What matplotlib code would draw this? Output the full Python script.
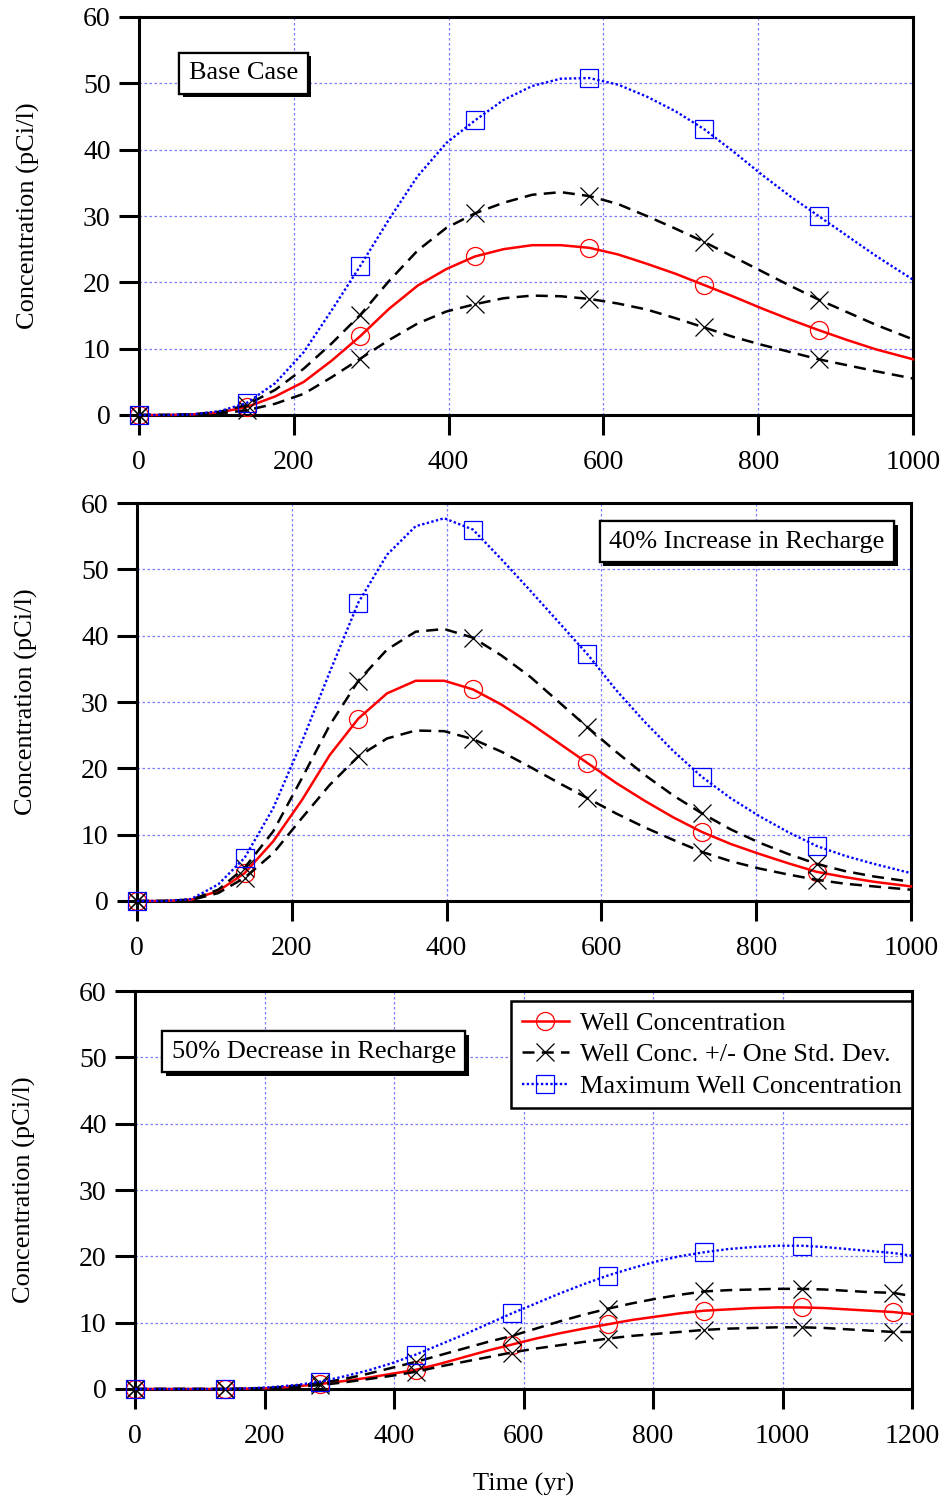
import numpy as np
import matplotlib
matplotlib.use("Agg")
import matplotlib.pyplot as plt
from matplotlib import patheffects

plt.rcParams['font.family'] = ['Liberation Serif', 'DejaVu Serif']
plt.rcParams['font.size'] = 19

# ---------------------------------------------------------------- data
# simulation output times (yr)
years_1000 = [0, 35, 70, 105, 139, 176, 213, 249, 286, 323, 360, 397, 434, 471,
              508, 545, 582, 619, 656, 693, 730, 767, 804, 841, 878, 915, 952, 1000]
years_1200 = [0, 35, 70, 105, 139, 176, 213, 249, 286, 323, 360, 397, 434, 471,
              508, 545, 582, 619, 656, 693, 730, 767, 804, 841, 878, 916, 954, 992,
              1030, 1065, 1100, 1135, 1171, 1200]
# times carrying symbols
symbol_years_1000 = [0, 139, 286, 434, 582, 730, 878]
symbol_years_1200 = [0, 139, 286, 434, 582, 730, 878, 1030, 1171]

# Base case (pCi/l)
base_mean = [0, 0, 0.1, 0.4, 1.2, 2.8, 5.0, 8.2, 11.9, 16.0, 19.5, 22.0, 23.9, 25.0,
             25.6, 25.6, 25.2, 24.2, 22.8, 21.3, 19.6, 17.9, 16.1, 14.4, 12.8, 11.3, 9.9, 8.4]
base_upper = [0, 0, 0.1, 0.5, 1.5, 3.8, 7.0, 10.8, 15.1, 20.2, 24.8, 28.2, 30.4, 32.0,
              33.2, 33.6, 33.0, 31.8, 30.0, 28.1, 26.1, 23.9, 21.7, 19.5, 17.4, 15.5, 13.6, 11.4]
base_lower = [0, 0, 0.05, 0.25, 0.7, 1.7, 3.2, 5.7, 8.5, 11.3, 13.8, 15.6, 16.7, 17.6,
              18.0, 17.9, 17.5, 16.8, 15.9, 14.6, 13.2, 11.8, 10.6, 9.5, 8.4, 7.5, 6.6, 5.5]
base_max = [0, 0, 0.1, 0.6, 1.8, 4.8, 9.5, 15.8, 22.5, 29.5, 36.0, 41.0, 44.4, 47.5,
            49.6, 50.7, 50.8, 49.8, 48.0, 45.8, 43.1, 39.8, 36.3, 33.0, 30.0, 27.0, 24.0, 20.4]

# 40% increase in recharge
inc_mean = [0, 0, 0.2, 1.5, 4.2, 9.0, 15.2, 22.0, 27.5, 31.3, 33.2, 33.2, 31.9, 29.6,
            26.8, 23.8, 20.8, 17.8, 15.1, 12.6, 10.4, 8.6, 7.1, 5.7, 4.4, 3.6, 2.9, 2.2]
inc_upper = [0, 0, 0.2, 1.7, 5.0, 10.5, 18.5, 26.5, 33.2, 37.9, 40.6, 41.0, 39.7, 37.0,
             33.8, 30.0, 26.2, 22.5, 19.0, 15.9, 13.2, 10.8, 8.8, 7.1, 5.6, 4.5, 3.7, 2.9]
inc_lower = [0, 0, 0.15, 1.2, 3.5, 7.2, 12.5, 17.5, 21.8, 24.5, 25.7, 25.6, 24.4, 22.5,
             20.2, 17.8, 15.5, 13.2, 11.1, 9.2, 7.4, 6.0, 4.9, 4.0, 3.2, 2.6, 2.2, 1.7]
inc_max = [0, 0, 0.3, 2.5, 6.5, 14.0, 24.0, 34.5, 45.0, 52.2, 56.5, 57.7, 56.0, 51.5,
           46.8, 42.0, 37.2, 31.8, 27.0, 22.6, 18.7, 15.5, 12.8, 10.4, 8.3, 6.8, 5.6, 4.2]

# 50% decrease in recharge
dec_mean = [0, 0, 0, 0, 0, 0.05, 0.15, 0.4, 0.75, 1.2, 1.7, 2.3, 2.9, 3.8, 4.8, 5.8,
            6.7, 7.6, 8.4, 9.1, 9.75, 10.4, 10.9, 11.4, 11.8, 12.0, 12.2, 12.3, 12.3,
            12.2, 12.0, 11.8, 11.6, 11.3]
dec_upper = [0, 0, 0, 0, 0, 0.05, 0.2, 0.5, 0.9, 1.5, 2.3, 3.2, 4.1, 5.1, 6.1, 7.1,
             8.0, 9.1, 10.2, 11.2, 12.1, 12.9, 13.6, 14.2, 14.7, 14.9, 15.0, 15.1, 15.1,
             15.0, 14.8, 14.6, 14.5, 14.0]
dec_lower = [0, 0, 0, 0, 0, 0.03, 0.1, 0.3, 0.6, 1.0, 1.5, 2.0, 2.6, 3.4, 4.1, 4.8,
             5.5, 6.1, 6.6, 7.1, 7.6, 8.0, 8.3, 8.6, 8.9, 9.1, 9.2, 9.3, 9.3,
             9.2, 9.0, 8.8, 8.6, 8.6]
dec_max = [0, 0, 0, 0, 0, 0.1, 0.3, 0.6, 1.1, 1.9, 2.8, 3.9, 5.2, 6.7, 8.2, 9.8,
           11.4, 12.9, 14.4, 15.8, 17.1, 18.2, 19.2, 20.0, 20.6, 21.1, 21.4, 21.6, 21.6,
           21.4, 21.1, 20.8, 20.5, 20.1]

series_labels = ["Well Concentration", "Well Conc. +/- One Std. Dev.",
                 "Maximum Well Concentration"]
case_titles = ["Base Case", "40% Increase in Recharge", "50% Decrease in Recharge"]
y_ticks = [0, 10, 20, 30, 40, 50, 60]
x_ticks_1000 = [0, 200, 400, 600, 800, 1000]
x_ticks_1200 = [0, 200, 400, 600, 800, 1000, 1200]

# ---------------------------------------------------------------- styling
RED = '#ff0000'
BLUE = '#0000ff'
GRID = '#7a7aff'
SPINE_W = 2.2
LW = 1.8
MS = 13

fig = plt.figure(figsize=(9.44, 15.0), dpi=100)
ax1 = fig.add_axes([139 / 944, 1 - 415 / 1500, 774 / 944, 398 / 1500])
ax2 = fig.add_axes([137 / 944, 1 - 901 / 1500, 774 / 944, 398 / 1500])
ax3 = fig.add_axes([135 / 944, 1 - 1389 / 1500, 777 / 944, 398 / 1500])


def draw_panel(ax, t, mean, upper, lower, cmax, sym_t, xticks, title, title_xy,
               with_legend=False):
    t = np.asarray(t, dtype=float)
    marks = np.isin(t, sym_t)
    common = dict(markevery=marks, clip_on=False, zorder=4)
    ax.plot(t, mean, color=RED, lw=LW, marker='o', ms=MS, mfc='none', mec=RED,
            mew=0.9, label=series_labels[0], **common)
    ax.plot(t, upper, color='black', lw=LW, ls=(0, (4.8, 2.9)), marker='x', ms=MS,
            mec='black', mew=0.9, label=series_labels[1], **common)
    ax.plot(t, lower, color='black', lw=LW, ls=(0, (4.8, 2.9)), marker='x', ms=MS,
            mec='black', mew=0.9, **common)
    ax.plot(t, cmax, color=BLUE, lw=1.7, ls=(0, (1, 1)), marker='s', ms=MS,
            mfc='none', mec=BLUE, mew=0.9, label=series_labels[2], **common)

    ax.set_xlim(xticks[0], xticks[-1])
    ax.set_ylim(y_ticks[0], y_ticks[-1])
    ax.set_xticks(xticks)
    ax.set_yticks(y_ticks)
    ax.grid(True, color=GRID, lw=0.9, ls=(0, (2, 2)), zorder=0)
    ax.set_axisbelow(True)
    for sp in ax.spines.values():
        sp.set_linewidth(SPINE_W)
        sp.set_zorder(3)
    ax.tick_params(axis='both', direction='out', length=14.5, width=SPINE_W,
                   labelsize=20)
    ax.tick_params(axis='x', pad=11)
    ax.tick_params(axis='y', pad=6)
    ax.set_ylabel("Concentration (pCi/l)", fontsize=19)
    ax.yaxis.set_label_coords(-0.128, 0.5)

    txt = ax.text(title_xy[0], title_xy[1], title, transform=ax.transAxes,
                  ha='center', va='center', fontsize=19, zorder=6,
                  bbox=dict(boxstyle='square,pad=0.36', fc='white', ec='black', lw=1.6))
    txt.get_bbox_patch().set_path_effects([
        patheffects.withSimplePatchShadow(offset=(2.6, -2.6), shadow_rgbFace='black',
                                          alpha=1.0),
        patheffects.Normal()])

    if with_legend:
        leg = ax.legend(loc='upper right', bbox_to_anchor=(1.0, 1 - 10 / 398),
                        borderaxespad=0, fontsize=19, frameon=True, fancybox=False,
                        edgecolor='black', framealpha=1, handlelength=1.8,
                        handletextpad=0.4, labelspacing=0.3, borderpad=0.4,
                        numpoints=1)
        leg.get_frame().set_linewidth(1.8)
        leg.set_zorder(7)


draw_panel(ax1, years_1000, base_mean, base_upper, base_lower, base_max,
           symbol_years_1000, x_ticks_1000, case_titles[0], (0.135, 0.859))
draw_panel(ax2, years_1000, inc_mean, inc_upper, inc_lower, inc_max,
           symbol_years_1000, x_ticks_1000, case_titles[1], (0.788, 0.903))
draw_panel(ax3, years_1200, dec_mean, dec_upper, dec_lower, dec_max,
           symbol_years_1200, x_ticks_1200, case_titles[2], (0.230, 0.847),
           with_legend=True)
ax3.set_xlabel("Time (yr)", fontsize=19, labelpad=17)

fig.savefig("out.png", dpi=100)
